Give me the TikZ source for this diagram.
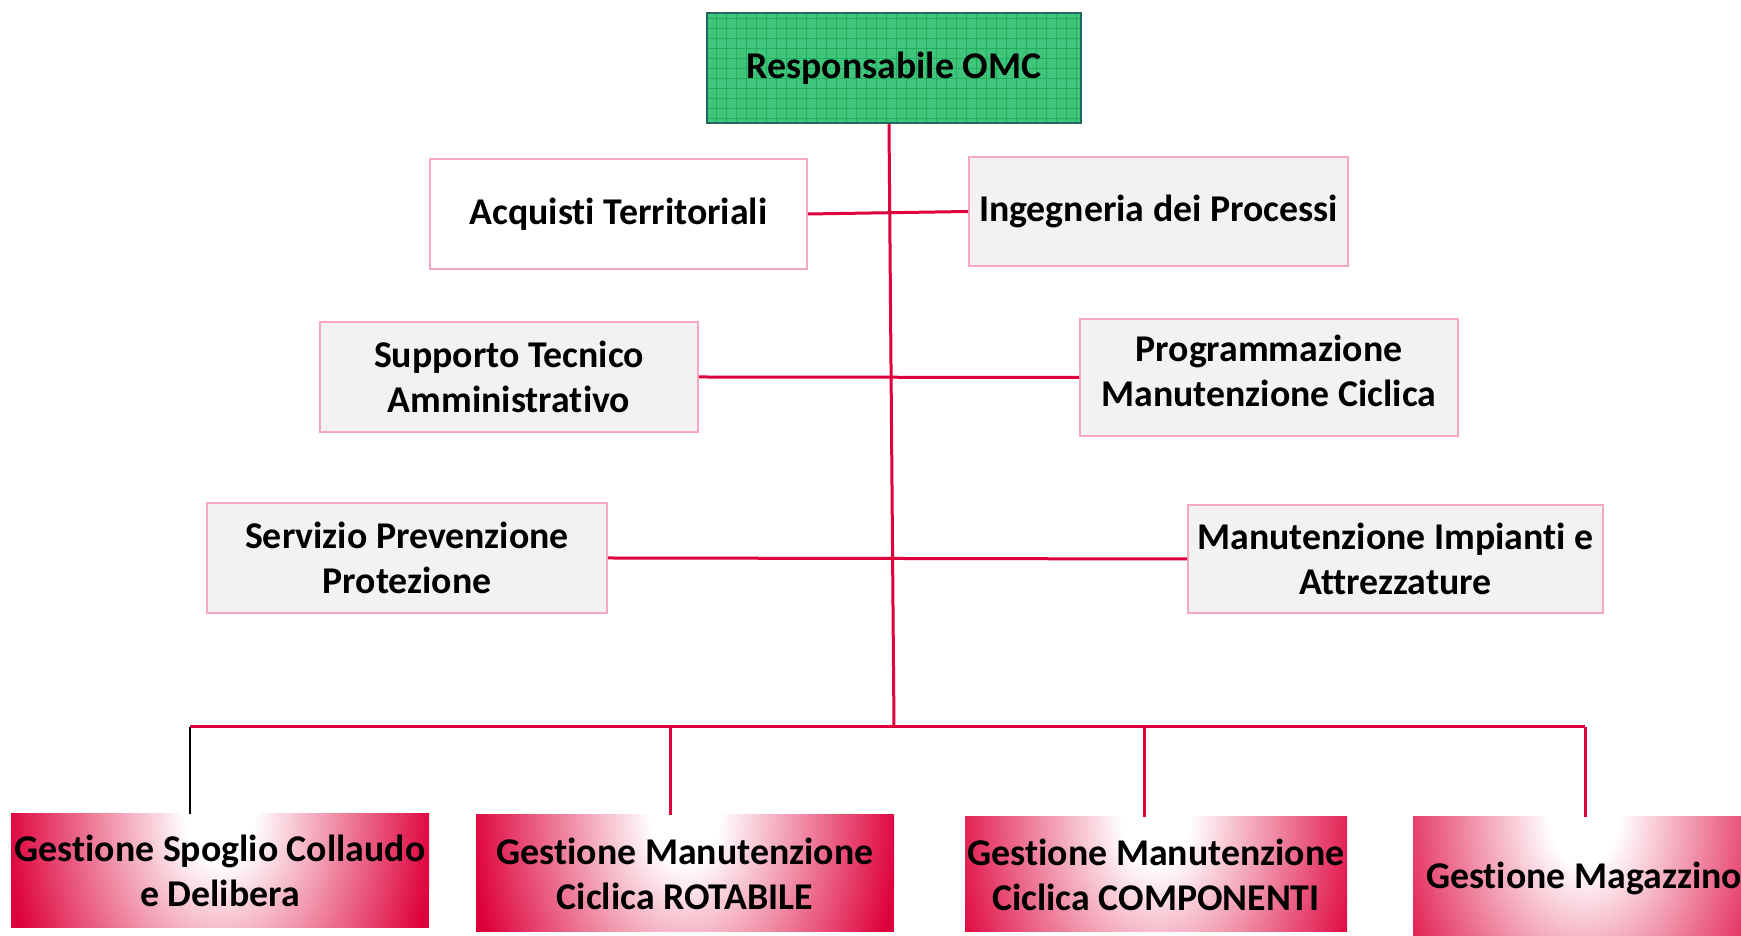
\documentclass[tikz,border=0pt]{standalone}
\usepackage{fontspec}
\setmainfont{Carlito}[Ligatures={NoCommon}]
\usetikzlibrary{positioning}
\definecolor{crim}{RGB}{222,0,58}
\definecolor{rosa}{RGB}{246,168,188}
\definecolor{grigio}{RGB}{242,242,242}
\definecolor{verde}{RGB}{64,198,124}
\definecolor{verdescuro}{RGB}{36,174,96}
\definecolor{bordoverde}{RGB}{30,105,95}
\pgfdeclareradialshading{sfumatura}{\pgfpoint{0bp}{0bp}}{color(0bp)=(white); color(4bp)=(white); color(25bp)=(crim); color(50bp)=(crim)}

\begin{document}
\begin{tikzpicture}[x=0.5pt, y=0.5pt,
    font=\fontsize{18.9}{22.5}\selectfont\bfseries,
    ufficio/.style={draw=rosa, line width=1pt, fill=grigio, align=center, inner sep=0pt},
    gestione/.style={fill=crim, align=center, inner sep=0pt,
        path picture={\shade[shading=sfumatura] (path picture bounding box.north) ellipse (108pt and 150pt);}},
    linea/.style={crim, line width=1.5pt}]
        \clip (0,0) rectangle (1741,936);
        \fill[white] (0,0) rectangle (1741,936);

        % Nodes
        \node (omc) [draw=bordoverde, line width=1pt, fill=verde, minimum width=187pt, minimum height=55pt,
            path picture={\draw[verdescuro, line width=0.4pt, step=5pt] (path picture bounding box.south west) grid (path picture bounding box.north east);}]
            at (894,868) {Responsabile OMC};
        \node (acquisti) [ufficio, fill=white, minimum width=188.5pt, minimum height=55pt] at (618.5,722) {Acquisti Territoriali};
        \node (ingegneria) [ufficio, minimum width=189.5pt, minimum height=54.5pt] at (1158.5,724.5) {Ingegneria dei Processi};
        \node (supporto) [ufficio, minimum width=189pt, minimum height=55pt] at (509,559) {Supporto Tecnico\\ Amministrativo};
        \node (programmazione) [ufficio, minimum width=189pt, minimum height=58.5pt] at (1269,558.5) {Programmazione\\ Manutenzione Ciclica\rule[-7pt]{0pt}{1pt}};
        \node (prevenzione) [ufficio, minimum width=200pt, minimum height=55pt] at (407,378) {Servizio Prevenzione\\ Protezione};
        \node (impianti) [ufficio, minimum width=207.5pt, minimum height=54pt] at (1395.5,377) {Manutenzione Impianti e\\ Attrezzature};

        \node (spoglio) [gestione, minimum width=209pt, minimum height=57pt] at (220,65) {Gestione Spoglio Collaudo\\ e Delibera};
        \node (rotabile) [gestione, minimum width=209pt, minimum height=58.5pt] at (685,62.5) {Gestione Manutenzione\\ Ciclica ROTABILE};
        \node (componenti) [gestione, minimum width=191pt, minimum height=57.5pt] at (1156,61.5) {Gestione Manutenzione\\ Ciclica COMPONENTI};
        \node (magazzino) [gestione, minimum width=171pt, minimum height=61.5pt] at (1584,57.5) {Gestione Magazzino};

        \coordinate (bus) at (894,209);
        \coordinate (b1) at (190,209);
        \coordinate (b2) at (670,209);
        \coordinate (b3) at (1144,209);
        \coordinate (b4) at (1585,209);

        % Edges
        \draw[linea] ([xshift=-2.5pt]omc.south) -- (bus);
        \draw[linea] (acquisti.east) -- (ingegneria.west);
        \draw[linea] (supporto.east) -- (programmazione.west);
        \draw[linea] (prevenzione.east) -- (impianti.west);
        \draw[linea] (b1) -- (b4);
        \draw[black, line width=0.8pt] (b1) -- (b1 |- spoglio.north);
        \draw[linea] (b2) -- (b2 |- rotabile.north);
        \draw[linea] (b3) -- (b3 |- componenti.north);
        \draw[linea] (b4) -- (b4 |- magazzino.north);
    \end{tikzpicture}
\end{document}
